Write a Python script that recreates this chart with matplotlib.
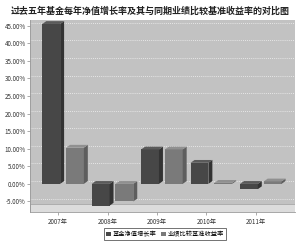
import matplotlib.pyplot as plt
from matplotlib.patches import Polygon, Rectangle

plt.rcParams['font.family'] = ['Noto Sans CJK SC', 'DejaVu Sans']

years = ['2007年', '2008年', '2009年', '2010年', '2011年']
fund_growth = [45.5, -6.2, 9.8, 6.0, -1.5]
benchmark = [10.3, -5.0, 9.8, 0.3, 0.7]
series_names = ['基金净值增长率', '业绩比较基准收益率']
yticks = [45, 40, 35, 30, 25, 20, 15, 10, 5, 0, -5]

fig = plt.figure(figsize=(3.0, 2.42), dpi=100)
fig.patch.set_facecolor('white')
ax = fig.add_axes([0.1, 0.124, 0.883, 0.793])
ax.set_facecolor('#c2c2c2')
ax.set_xlim(-0.67, 4.69)
ax.set_ylim(-8, 46.6)

for v in yticks:
    ax.axhline(v + 0.8, color='white', linestyle=(0, (1, 1.5)), linewidth=0.6, alpha=0.8, zorder=1)

# floor band
ax.add_patch(Rectangle((-0.67, -8), 5.36, 2.2, facecolor='#dcdcdc', edgecolor='#a0a0a0', linewidth=0.5, zorder=1))

width = 0.36
dx, dy = 0.08, 0.8


def bar3d(x, v, front, side, top):
    x0, x1 = x - width / 2, x + width / 2
    ax.add_patch(Rectangle((x0, min(0, v)), width, abs(v), facecolor=front, edgecolor='none', zorder=3))
    ytop = max(0, v)
    ybot = min(0, v)
    ax.add_patch(Polygon([(x1, ybot), (x1 + dx, ybot + dy), (x1 + dx, ytop + dy), (x1, ytop)],
                         facecolor=side, edgecolor='none', zorder=3))
    ax.add_patch(Polygon([(x0, ytop), (x0 + dx, ytop + dy), (x1 + dx, ytop + dy), (x1, ytop)],
                         facecolor=top, edgecolor='none', zorder=3))


for i in range(len(years)):
    bar3d(i - 0.24, fund_growth[i], '#474747', '#333333', '#5a5a5a')
    bar3d(i + 0.24, benchmark[i], '#7a7a7a', '#5e5e5e', '#909090')

ax.set_yticks(yticks)
ax.set_yticklabels([f'{v:.2f}%' for v in yticks], fontsize=4.5, color='#333333')
ax.set_xticks([i - 0.1 for i in range(len(years))])
ax.set_xticklabels(years, fontsize=4.5, color='#333333')
ax.tick_params(axis='y', length=2, width=0.5, pad=1, color='#888888')
ax.tick_params(axis='x', length=2, width=0.5, pad=2, color='#888888')
for s in ['top', 'right']:
    ax.spines[s].set_visible(False)
ax.spines['left'].set_color('#999999')
ax.spines['bottom'].set_color('#999999')
ax.spines['left'].set_linewidth(0.6)
ax.spines['bottom'].set_linewidth(0.6)

fig.text(0.5, 0.955, '过去五年基金每年净值增长率及其与同期业绩比较基准收益率的对比图',
         ha='center', va='center', fontsize=6.5, fontweight='bold', color='#222222')

handles = [Rectangle((0, 0), 1, 1, facecolor='#474747'), Rectangle((0, 0), 1, 1, facecolor='#7a7a7a')]
leg = fig.legend(handles, series_names, loc='center', bbox_to_anchor=(0.55, 0.032), ncol=2,
                 fontsize=4.5, frameon=True, fancybox=False, handlelength=0.8, handleheight=0.8,
                 handletextpad=0.3, columnspacing=0.8, borderpad=0.3, borderaxespad=0)
leg.get_frame().set_edgecolor('#333333')
leg.get_frame().set_linewidth(0.6)

fig.savefig('out.png', dpi=100)
